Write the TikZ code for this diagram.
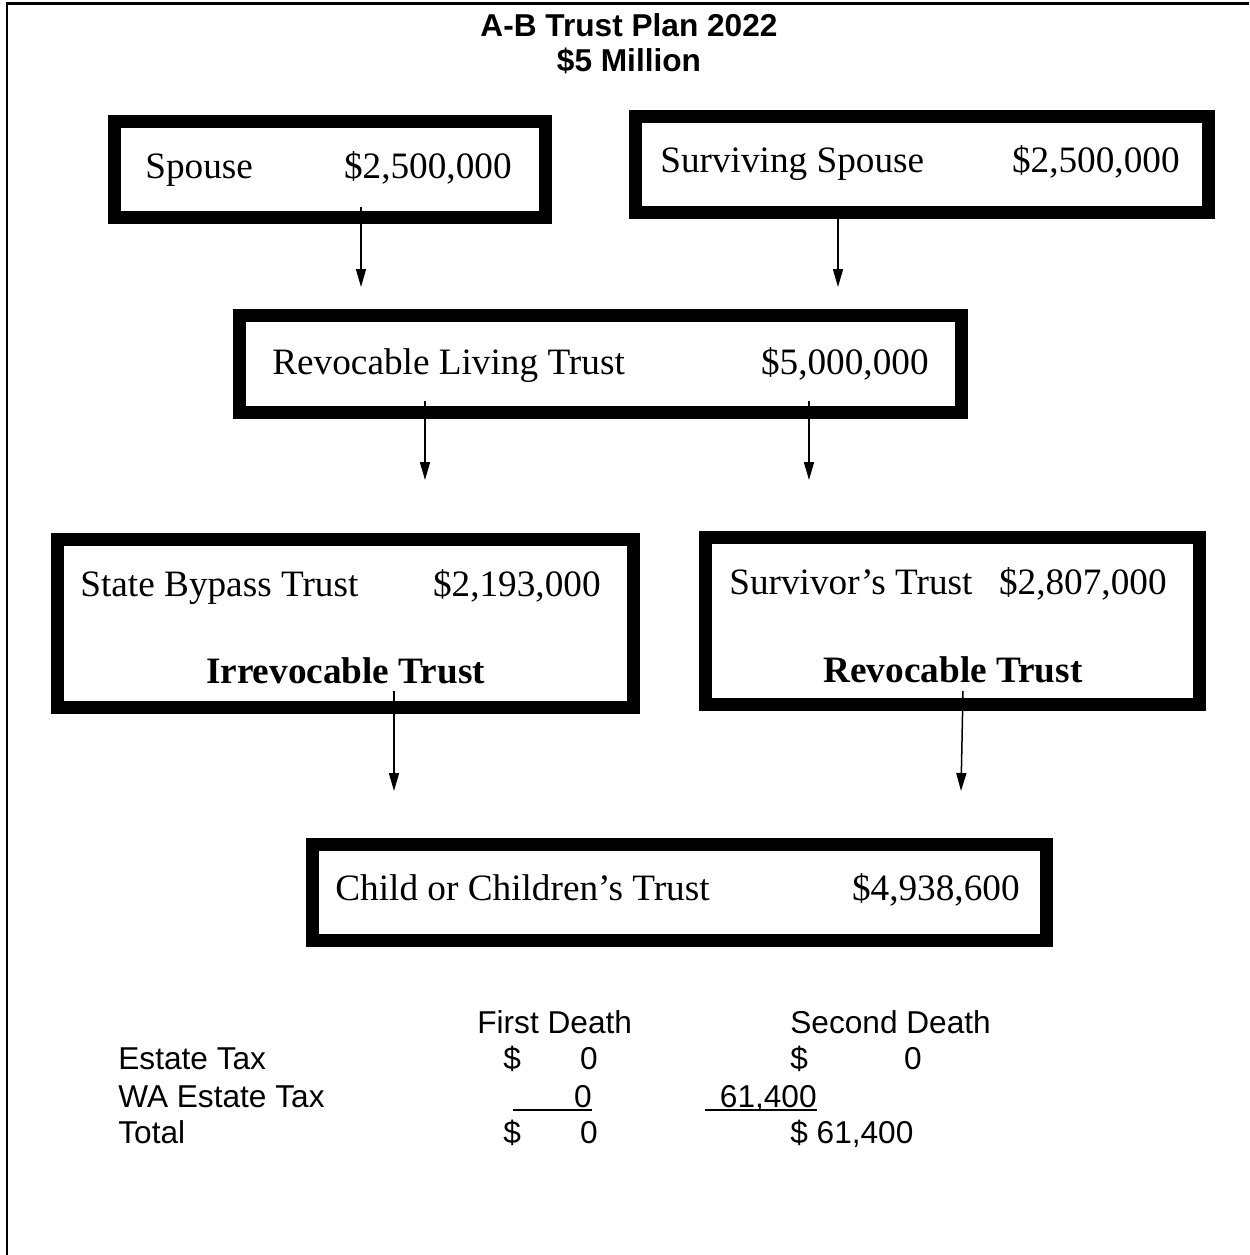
\documentclass[tikz,border=0pt]{standalone}
\usepackage{fontspec}
\setmainfont{Liberation Serif}
\newfontfamily\arialfont{Liberation Sans}
\usetikzlibrary{arrows.meta}

\begin{document}
\begin{tikzpicture}[x=0.02cm, y=-0.02cm,
    tbox/.style={draw, line width=0.26cm, inner sep=0pt, outer sep=0pt},
    lbl/.style={inner sep=0pt, font=\fontsize{21.2}{25}\selectfont},
    blbl/.style={inner sep=0pt, anchor=base, font=\fontsize{21.2}{25}\selectfont\bfseries},
    ttl/.style={inner sep=0pt, anchor=base, font=\arialfont\fontsize{18}{21}\selectfont\bfseries},
    tax/.style={inner sep=0pt, font=\arialfont\fontsize{18}{21}\selectfont},
    flow/.style={-{Triangle[length=0.36cm,width=0.2cm]}, line width=0.03cm},
    uline/.style={line width=0.04cm}]
        \useasboundingbox (0,0) rectangle (1249,1255);
        \draw[line width=0.06cm] (1249,3) -| (7,1255);

        % heading
        \node[ttl] (title) at (629,36) {A-B Trust Plan 2022};
        \node[ttl] (total) at (629,71) {\$5 Million};

        % the boxes
        \node[tbox, minimum width=8.62cm, minimum height=1.92cm] (spouse) at (330,169.5) {};
        \node[tbox, minimum width=11.46cm, minimum height=1.92cm] (survspouse) at (922,164.5) {};
        \node[tbox, minimum width=14.44cm, minimum height=1.94cm] (living) at (600.5,364) {};
        \node[tbox, minimum width=11.52cm, minimum height=3.36cm] (bypass) at (345.5,623.5) {};
        \node[tbox, minimum width=9.88cm, minimum height=3.34cm] (survivor) at (952.5,621) {};
        \node[tbox, minimum width=14.68cm, minimum height=1.92cm] (children) at (679.5,892.5) {};

        \node[lbl, anchor=base west] (spousen) at (145,178) {Spouse};
        \node[lbl, anchor=base east] (spousev) at (512,178) {\$2,500,000};
        \node[lbl, anchor=base west] (survspousen) at (660,172) {Surviving Spouse};
        \node[lbl, anchor=base east] (survspousev) at (1180,172) {\$2,500,000};
        \node[lbl, anchor=base west] (livingn) at (272,374) {Revocable Living Trust};
        \node[lbl, anchor=base east] (livingv) at (929,374) {\$5,000,000};
        \node[lbl, anchor=base west] (bypassn) at (80,596) {State Bypass Trust};
        \node[lbl, anchor=base east] (bypassv) at (601,596) {\$2,193,000};
        \node[blbl] (bypasst) at (345.5,683) {Irrevocable Trust};
        \node[lbl, anchor=base west] (survivorn) at (729,594) {Survivor’s Trust};
        \node[lbl, anchor=base east] (survivorv) at (1167,594) {\$2,807,000};
        \node[blbl] (survivort) at (953,682) {Revocable Trust};
        \node[lbl, anchor=base west] (childrenn) at (335,900) {Child or Children’s Trust};
        \node[lbl, anchor=base east] (childrenv) at (1020,900) {\$4,938,600};

        % arrows
        \coordinate (t1) at (361,287);
        \coordinate (t2) at (838,287);
        \coordinate (t3) at (425,480);
        \coordinate (t4) at (809,480);
        \coordinate (t5) at (394,791);
        \coordinate (t6) at (961,791);
        \draw[flow] ([yshift=0.2cm]spouse.south -| t1) -- (t1);
        \draw[flow] ([yshift=0.13cm]survspouse.south -| t2) -- (t2);
        \draw[flow] ([yshift=0.23cm]living.south -| t3) -- (t3);
        \draw[flow] ([yshift=0.23cm]living.south -| t4) -- (t4);
        \draw[flow] ([yshift=0.33cm]bypass.south -| t5) -- (t5);
        \draw[flow] ([xshift=0.04cm, yshift=0.27cm]survivor.south -| t6) -- (t6);

        % taxes
        \node[tax, anchor=base west] (first) at (477,1033) {First Death};
        \node[tax, anchor=base west] (second) at (790,1033) {Second Death};
        \node[tax, anchor=base west] (rowa) at (118,1069) {Estate Tax};
        \node[tax, anchor=base west] (rowb) at (118,1107) {WA Estate Tax};
        \node[tax, anchor=base west] (rowc) at (118,1143) {Total};
        \node[tax, anchor=base west] (fa) at (503,1069) {\$};
        \node[tax, anchor=base east] (fa0) at (598,1069) {0};
        \node[tax, anchor=base west] (sa) at (790,1069) {\$};
        \node[tax, anchor=base east] (sa0) at (922,1069) {0};
        \node[tax, anchor=base east] (fb0) at (592,1107) {0};
        \node[tax, anchor=base east] (sb) at (817,1107) {61,400};
        \draw[uline] ([yshift=-0.06cm]fb0.base east) -- ++(-79,0);
        \draw[uline] ([yshift=-0.06cm]sb.base east) -- ++(-112,0);
        \node[tax, anchor=base west] (fc) at (503,1143) {\$};
        \node[tax, anchor=base east] (fc0) at (598,1143) {0};
        \node[tax, anchor=base west] (sc) at (790,1143) {\$ 61,400};
\end{tikzpicture}
\end{document}
